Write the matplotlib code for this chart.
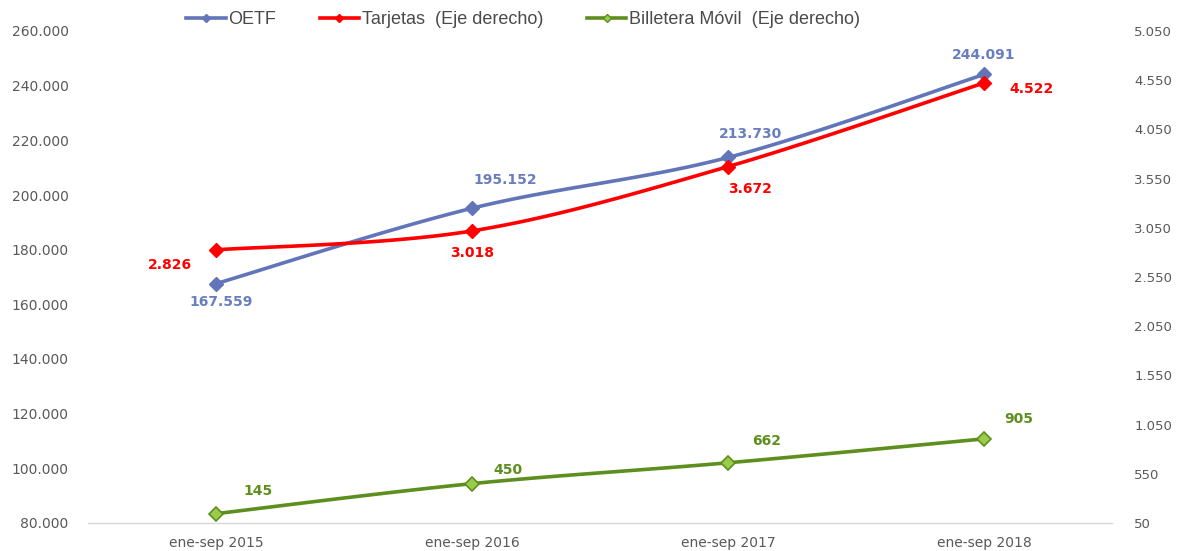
import numpy as np
import matplotlib
matplotlib.use("Agg")
import matplotlib.pyplot as plt
from matplotlib.lines import Line2D
from matplotlib.ticker import FuncFormatter

categories = ["ene-sep 2015", "ene-sep 2016", "ene-sep 2017", "ene-sep 2018"]
oetf = [167559, 195152, 213730, 244091]
tarjetas = [2826, 3018, 3672, 4522]
billetera = [145, 450, 662, 905]

left_ticks = list(range(80000, 260001, 20000))
right_ticks = list(range(50, 5051, 500))

c_oetf = "#6175B8"
c_oetf_lbl = "#6A7EBF"
c_tar = "#FF0000"
c_bil = "#5E8F1E"
c_bil_face = "#9BCB4B"


def smooth(xs, ys, n=40):
    xs = np.asarray(xs, float)
    ys = np.asarray(ys, float)
    P = np.column_stack([xs, ys])
    out = []
    for i in range(len(P) - 1):
        p0 = P[i - 1] if i > 0 else P[i]
        p1 = P[i]
        p2 = P[i + 1]
        p3 = P[i + 2] if i + 2 < len(P) else P[i + 1]
        c1 = p1 + (p2 - p0) / 6.0
        c2 = p2 - (p3 - p1) / 6.0
        t = np.linspace(0, 1, n)[:, None]
        seg = ((1 - t) ** 3) * p1 + 3 * ((1 - t) ** 2) * t * c1 + 3 * (1 - t) * t ** 2 * c2 + t ** 3 * p2
        out.append(seg if i == 0 else seg[1:])
    S = np.vstack(out)
    return S[:, 0], S[:, 1]


def fmt(v, pos=None):
    return f"{int(round(v)):,}".replace(",", ".")


fig = plt.figure(figsize=(11.77, 5.51), dpi=100)
ax = fig.add_axes([88 / 1177, 28 / 551, 1024 / 1177, 492 / 551])
ax2 = ax.twinx()

x = np.arange(len(categories))

sx, sy = smooth(x, oetf)
ax.plot(sx, sy, color=c_oetf, lw=2.6, solid_capstyle="round", zorder=3)
ax.plot(x, oetf, ls="none", marker="D", ms=7, color=c_oetf, zorder=4)

tx, ty = smooth(x, tarjetas)
ax2.plot(tx, ty, color=c_tar, lw=2.6, solid_capstyle="round", zorder=3)
ax2.plot(x, tarjetas, ls="none", marker="D", ms=7, color=c_tar, zorder=4)

bx, by = smooth(x, billetera)
ax2.plot(bx, by, color=c_bil, lw=2.6, solid_capstyle="round", zorder=3)
ax2.plot(x, billetera, ls="none", marker="D", ms=7, mfc=c_bil_face, mec=c_bil, mew=1.2, zorder=4)

ax.set_xlim(-0.5, len(categories) - 0.5)
ax.set_ylim(left_ticks[0], left_ticks[-1])
ax2.set_ylim(right_ticks[0], right_ticks[-1])
ax.set_yticks(left_ticks)
ax2.set_yticks(right_ticks)
ax.yaxis.set_major_formatter(FuncFormatter(fmt))
ax2.yaxis.set_major_formatter(FuncFormatter(fmt))
ax.set_xticks(x)
ax.set_xticklabels(categories)

for a in (ax, ax2):
    for s in a.spines.values():
        s.set_visible(False)
    a.tick_params(length=0, labelsize=10, labelcolor="#595959")
ax.spines["bottom"].set_visible(True)
ax.spines["bottom"].set_color("#D9D9D9")
ax.spines["bottom"].set_linewidth(1.0)
ax.tick_params(axis="y", pad=14)
ax2.tick_params(axis="y", pad=16, labelsize=9.5)
ax.tick_params(axis="x", pad=9)

lbl_kw = dict(fontsize=10, fontweight="bold", ha="center", va="center", textcoords="offset points")
oetf_off = [(4, -13), (24, 20), (16, 17), (0, 14)]
tar_off = [(-33, -11), (0, -16), (16, -16), (34, -4)]
bil_off = [(30, 16), (26, 10), (28, 16), (25, 14)]
for i in range(len(categories)):
    ax.annotate(fmt(oetf[i]), (x[i], oetf[i]), xytext=oetf_off[i], color=c_oetf_lbl, **lbl_kw)
    ax2.annotate(fmt(tarjetas[i]), (x[i], tarjetas[i]), xytext=tar_off[i], color=c_tar, **lbl_kw)
    ax2.annotate(fmt(billetera[i]), (x[i], billetera[i]), xytext=bil_off[i], color=c_bil, **lbl_kw)

handles = [
    Line2D([], [], color=c_oetf, lw=2.6, marker="D", ms=4.5),
    Line2D([], [], color=c_tar, lw=2.6, marker="D", ms=4.5),
    Line2D([], [], color=c_bil, lw=2.6, marker="D", ms=4.5, mfc=c_bil_face, mec=c_bil),
]
labels = ["OETF", "Tarjetas  (Eje derecho)", "Billetera Móvil  (Eje derecho)"]
fig.legend(handles, labels, loc="center", bbox_to_anchor=(523 / 1177, 1 - 20 / 551), ncol=3,
           frameon=False, prop={"family": "Liberation Sans", "size": 13}, handlelength=2.2,
           handletextpad=0.15, columnspacing=2.4, labelcolor="#4A4A4A")

fig.savefig("out.png", dpi=100)
